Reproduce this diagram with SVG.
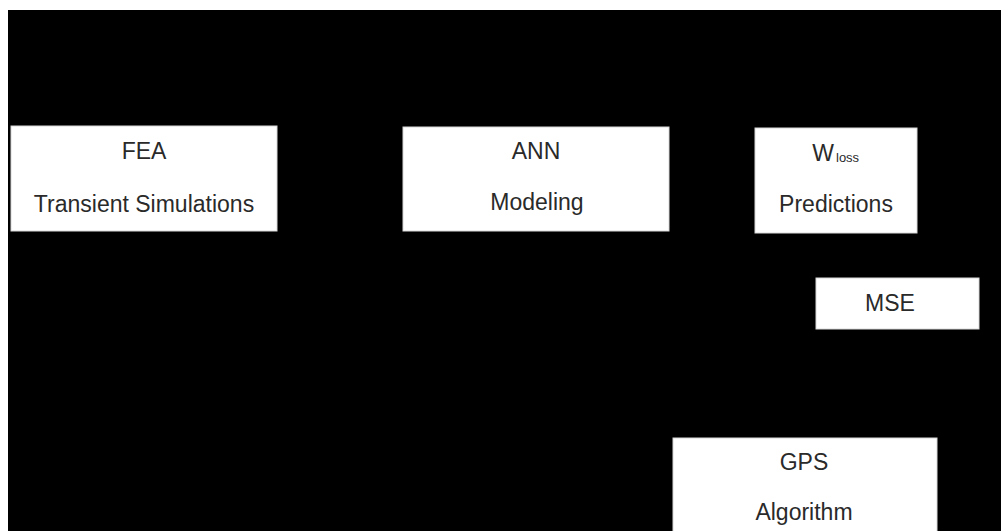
<svg xmlns="http://www.w3.org/2000/svg" width="1001" height="531" viewBox="0 0 1001 531">
<style>
.box{fill:#ffffff;stroke:#d8d8d8;stroke-width:1}
.t{font-family:"Liberation Sans",Arial,sans-serif;font-size:23px;fill:#2a2a2a;text-anchor:middle}
.sub{font-family:"Liberation Sans",Arial,sans-serif;font-size:13px;fill:#2a2a2a}
</style>
<rect x="0" y="0" width="1001" height="531" fill="#ffffff"/>
<rect x="8" y="10" width="993" height="521" fill="#000000"/>
<g id="connectors"></g>
<g id="fea">
<rect class="box" x="11" y="126" width="266" height="105"/>
<text class="t" x="144" y="159">FEA</text>
<text class="t" x="144" y="212">Transient Simulations</text>
</g>
<g id="ann">
<rect class="box" x="403" y="127" width="266" height="104"/>
<text class="t" x="536" y="159">ANN</text>
<text class="t" x="537" y="210">Modeling</text>
</g>
<g id="wloss">
<rect class="box" x="755" y="128" width="162" height="105"/>
<text class="t" x="823" y="161">W</text>
<text class="sub" x="836" y="162">loss</text>
<text class="t" x="836" y="212">Predictions</text>
</g>
<g id="mse">
<rect class="box" x="816" y="278" width="163" height="51"/>
<text class="t" x="890" y="311">MSE</text>
</g>
<g id="gps">
<rect class="box" x="673" y="438" width="264" height="100"/>
<text class="t" x="804" y="470">GPS</text>
<text class="t" x="804" y="520">Algorithm</text>
</g>
</svg>
